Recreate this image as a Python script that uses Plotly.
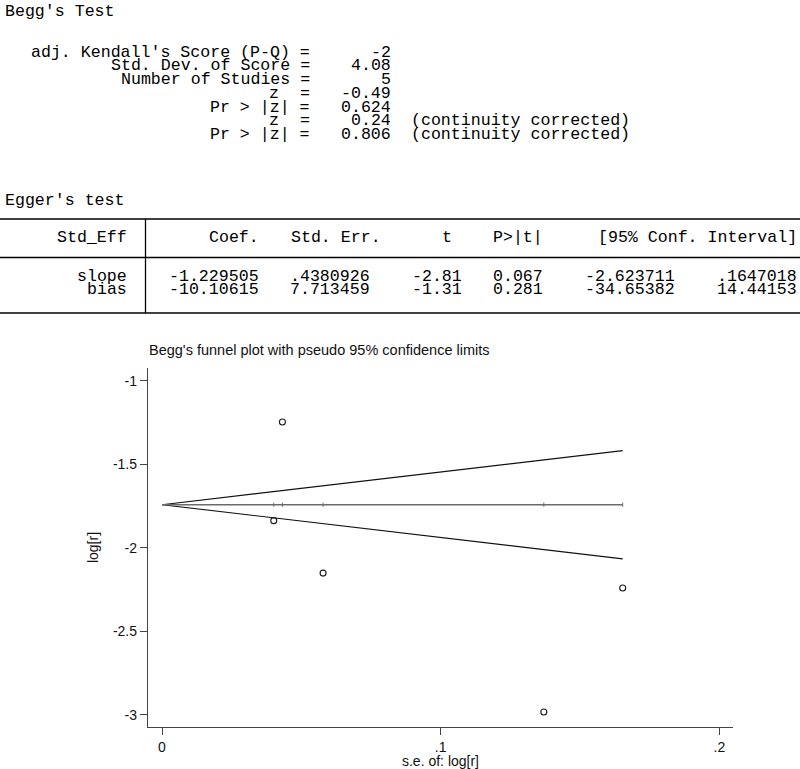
import re
import plotly.graph_objects as go

# ---------------- data ----------------
se_values = [0.0432, 0.0401, 0.0578, 0.1370, 0.1653]
logr_values = [-1.247, -1.838, -2.152, -2.984, -2.241]
pooled_est = -1.7425
funnel_se = [0.0, 0.1653]
funnel_upper = [-1.7425, -1.419]
funnel_lower = [-1.7425, -2.067]
x_tick_vals = [0, 0.1, 0.2]
x_tick_text = ["0", ".1", ".2"]
y_tick_vals = [-1, -1.5, -2, -2.5, -3]
y_tick_text = ["-1", "-1.5", "-2", "-2.5", "-3"]

begg_title = "Begg's Test"
begg_lines = [
    "  adj. Kendall's Score (P-Q) =      -2",
    "          Std. Dev. of Score =    4.08",
    "           Number of Studies =       5",
    "                          z  =   -0.49",
    "                    Pr > |z| =   0.624",
    "                          z  =    0.24  (continuity corrected)",
    "                    Pr > |z| =   0.806  (continuity corrected)",
]
egger_title = "Egger's test"
egger_header = "     Std_Eff        Coef.   Std. Err.      t    P>|t|     [95% Conf. Interval]"
egger_rows = [
    "       slope    -1.229505   .4380926    -2.81   0.067    -2.623711    .1647018",
    "        bias    -10.10615   7.713459    -1.31   0.281    -34.65382    14.44153",
]

# ---------------- layout geometry (pixels) ----------------
W, H = 800, 769
PL, PR, PT, PB = 148, 733, 368, 727  # plot area edges
PITCH = 10.15   # character cell width of the results text
X0 = 5.0        # left edge of column 0


def px(xp):
    return (xp - PL) / (PR - PL)


def py(yp):
    return (PB - yp) / (PB - PT)


fig = go.Figure()

# funnel limits
fig.add_trace(go.Scatter(x=funnel_se, y=funnel_upper, mode="lines",
                         line=dict(color="#111111", width=1.1), showlegend=False, hoverinfo="skip"))
fig.add_trace(go.Scatter(x=funnel_se, y=funnel_lower, mode="lines",
                         line=dict(color="#111111", width=1.1), showlegend=False, hoverinfo="skip"))
fig.add_trace(go.Scatter(x=funnel_se, y=[pooled_est, pooled_est], mode="lines",
                         line=dict(color="#6b6b6b", width=1.4), showlegend=False, hoverinfo="skip"))
# small ticks on the pooled line at each study's s.e.
fig.add_trace(go.Scatter(x=se_values, y=[pooled_est] * len(se_values), mode="markers",
                         marker=dict(symbol="line-ns-open", size=3, color="#6b6b6b",
                                     line=dict(color="#6b6b6b", width=1)),
                         showlegend=False, hoverinfo="skip"))
# studies
fig.add_trace(go.Scatter(x=se_values, y=logr_values, mode="markers",
                         marker=dict(symbol="circle-open", size=6, color="#1a1a1a", line=dict(width=1.1)),
                         showlegend=False))

mono = dict(family="Liberation Mono, DejaVu Sans Mono", size=16.6, color="#000000")
ann = []


def add_token(text, col_start, col_end, y_center, left=False):
    if left:
        xp, anchor = X0 + col_start * PITCH, "left"
    else:
        xp, anchor = X0 + col_end * PITCH, "right"
    ann.append(dict(text=text.replace(" ", "\u00a0"), xref="paper", yref="paper",
                    x=px(xp), y=py(y_center), xanchor=anchor, yanchor="middle",
                    showarrow=False, font=mono, borderpad=0, borderwidth=0))


def add_line(line, y_center, left_all=False):
    for m in re.finditer(r"\S+(?: \S+)*", line):
        tok = m.group(0)
        add_token(tok, m.start(), m.end(), y_center, left=left_all or tok.startswith("("))


begg_y = [52.0, 65.8, 79.6, 93.4, 107.2, 121.0, 134.8]
add_line(begg_title, 11.5, left_all=True)
for t, yv in zip(begg_lines, begg_y):
    add_line(t, yv)
add_line(egger_title, 201, left_all=True)
add_line(egger_header, 238)
add_line(egger_rows[0], 276)
add_line(egger_rows[1], 289.5)

shapes = []
for yl in [219, 257.5, 313]:
    shapes.append(dict(type="line", xref="paper", yref="paper", x0=px(0), x1=px(800),
                       y0=py(yl), y1=py(yl), line=dict(color="#000000", width=1.3)))
shapes.append(dict(type="line", xref="paper", yref="paper", x0=px(145.5), x1=px(145.5),
                   y0=py(219), y1=py(313), line=dict(color="#000000", width=1.3)))

axis_font = dict(family="Liberation Sans, Arial", size=14, color="#111111")

fig.update_layout(
    width=W, height=H,
    margin=dict(l=PL, r=W - PR, t=PT, b=H - PB, pad=0),
    paper_bgcolor="white", plot_bgcolor="white",
    annotations=ann, shapes=shapes,
    title=dict(text="Begg's funnel plot with pseudo 95% confidence limits",
               xref="container", yref="container", x=149 / W, y=1 - 349.5 / H,
               xanchor="left", yanchor="middle",
               font=dict(family="Liberation Sans, Arial", size=14.5, color="#111111")),
    xaxis=dict(range=[-0.005023, 0.20488], tickvals=x_tick_vals, ticktext=x_tick_text,
               ticks="outside", ticklen=7, tickwidth=1.2, tickcolor="#444444",
               showline=True, linecolor="#444444", linewidth=1.4, showgrid=False, zeroline=False,
               tickfont=axis_font, automargin=False,
               title=dict(text="s.e. of: log[r]", font=axis_font, standoff=0)),
    yaxis=dict(range=[-3.0737, -0.924], tickvals=y_tick_vals, ticktext=y_tick_text,
               ticks="outside", ticklen=7, tickwidth=1.2, tickcolor="#444444",
               showline=True, linecolor="#444444", linewidth=1.4, showgrid=False, zeroline=False,
               tickfont=axis_font, automargin=False,
               title=dict(text="log[r]", font=axis_font, standoff=10)),
)

fig.write_html("out.html", config={"displayModeBar": False},
               post_script="document.body.style.margin='0px';")
